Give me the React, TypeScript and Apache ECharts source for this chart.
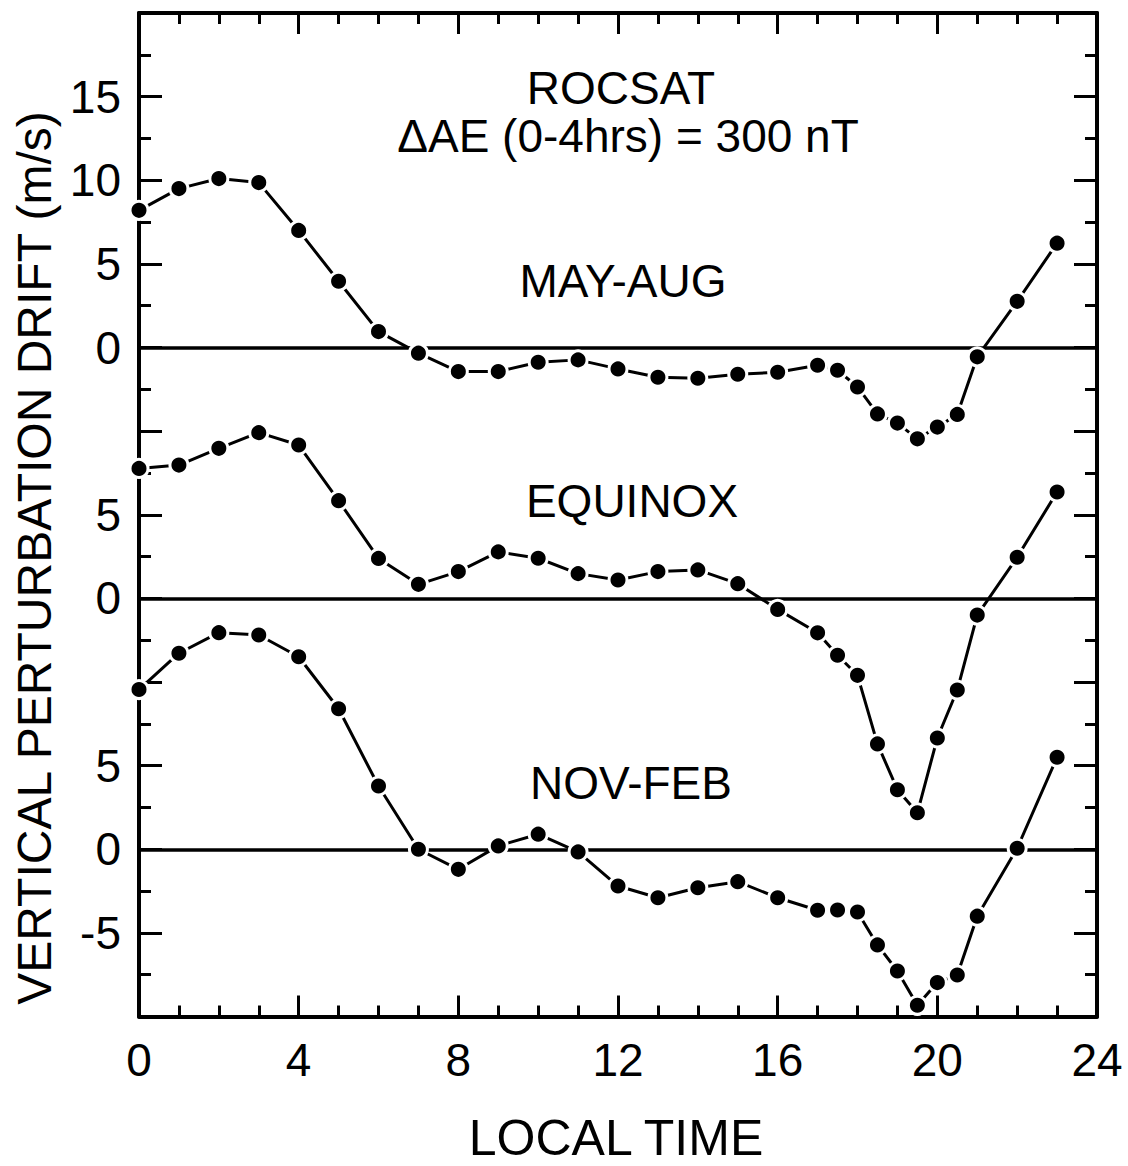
import React, { useEffect, useRef } from "react";
import * as echarts from "echarts";

// Local time (hours) at which the drifts were sampled
const hours = [0, 1, 2, 3, 4, 5, 6, 7, 8, 9, 10, 11, 12, 13, 14, 15, 16, 17, 17.5, 18, 18.5, 19, 19.5, 20, 20.5, 21, 22, 23];

// Vertical perturbation drift (m/s)
const mayAug = [8.2, 9.5, 10.1, 9.86, 7.0, 3.96, 0.95, -0.34, -1.44, -1.44, -0.88, -0.74, -1.28, -1.78, -1.84, -1.6, -1.48, -1.06, -1.36, -2.36, -3.97, -4.52, -5.46, -4.76, -4.0, -0.56, 2.76, 6.24];
const equinox = [7.77, 7.97, 8.97, 9.91, 9.17, 5.84, 2.39, 0.84, 1.6, 2.78, 2.4, 1.48, 1.1, 1.6, 1.7, 0.88, -0.66, -2.06, -3.4, -4.6, -8.7, -11.44, -12.82, -8.35, -5.48, -1.0, 2.46, 6.36];
const novFeb = [9.55, 11.72, 12.95, 12.81, 11.51, 8.4, 3.78, 0.0, -1.2, 0.2, 0.9, -0.16, -2.2, -2.9, -2.3, -1.94, -2.9, -3.65, -3.63, -3.75, -5.72, -7.28, -9.33, -7.97, -7.52, -4.0, 0.06, 5.5];

// Panels are stacked on one continuous axis; each panel's zero sits at this offset
const panelNames = ["MAY-AUG", "EQUINOX", "NOV-FEB"];
const panelOffsets = [30, 15, 0];

// Tick labels of the stacked y axis (global value -> label shown)
const yTickValues = [-5, 0, 5, 15, 20, 30, 35, 40, 45];
const yTickLabels = ["-5", "0", "5", "0", "5", "0", "5", "10", "15"];

const xTicks = [0, 4, 8, 12, 16, 20, 24];

const FONT = "'Liberation Sans', Arial, Helvetica, sans-serif";

export default function App() {
  const ref = useRef<HTMLDivElement>(null);

  useEffect(() => {
    if (!ref.current) return;
    const chart = echarts.init(ref.current, null, { renderer: "svg" });

    const seriesData = [mayAug, equinox, novFeb];

    const series: any[] = seriesData.map((vals, i) => ({
      name: panelNames[i],
      type: "line",
      data: hours.map((h, k) => [h, vals[k] + panelOffsets[i]]),
      xAxisIndex: 0,
      yAxisIndex: 0,
      symbol: "circle",
      symbolSize: 18,
      itemStyle: { color: "#000", borderColor: "#fff", borderWidth: 3 },
      lineStyle: { color: "#000", width: 3 },
      z: 3,
      markLine: {
        silent: true,
        symbol: "none",
        label: { show: false },
        lineStyle: { color: "#000", width: 3.5, type: "solid" },
        data: [{ yAxis: panelOffsets[i] }],
        z: 1,
      },
    }));

    const axisLine = { show: true, onZero: false, lineStyle: { color: "#000", width: 4 } };

    const option: any = {
      animation: false,
      backgroundColor: "#fff",
      grid: { left: 139, top: 13, right: 31, bottom: 149.5, containLabel: false },
      xAxis: [0, 1].map((idx) => ({
        type: "value",
        position: idx === 0 ? "bottom" : "top",
        min: xTicks[0],
        max: xTicks[xTicks.length - 1],
        interval: 4,
        axisLine,
        axisTick: { show: true, inside: true, length: 21, lineStyle: { color: "#000", width: 3 } },
        minorTick: { show: true, splitNumber: 4, length: 11, lineStyle: { color: "#000", width: 3 } },
        splitLine: { show: false },
        minorSplitLine: { show: false },
        axisLabel: {
          show: idx === 0,
          fontSize: 46,
          color: "#000",
          fontFamily: FONT,
          margin: 20,
        },
      })),
      yAxis: [0, 1].map((idx) => ({
        type: "value",
        position: idx === 0 ? "left" : "right",
        min: -10,
        max: 50,
        interval: 5,
        axisLine,
        axisTick: { show: true, inside: true, length: 23, lineStyle: { color: "#000", width: 3 } },
        minorTick: { show: true, splitNumber: 2, length: 12, lineStyle: { color: "#000", width: 3 } },
        splitLine: { show: false },
        minorSplitLine: { show: false },
        axisLabel: {
          show: idx === 0,
          fontSize: 46,
          color: "#000",
          fontFamily: FONT,
          margin: 18,
          formatter: (v: number) => {
            const j = yTickValues.indexOf(Math.round(v));
            return j >= 0 ? yTickLabels[j] : "";
          },
        },
      })),
      graphic: [
        { type: "text", x: 621, y: 88, style: { text: "ROCSAT", fontSize: 46, fontFamily: FONT, fill: "#000", align: "center", verticalAlign: "middle" } },
        { type: "text", x: 628, y: 136, style: { text: "ΔAE (0-4hrs) = 300 nT", fontSize: 46, fontFamily: FONT, fill: "#000", align: "center", verticalAlign: "middle" } },
        { type: "text", x: 623, y: 281, style: { text: panelNames[0], fontSize: 46, fontFamily: FONT, fill: "#000", align: "center", verticalAlign: "middle" } },
        { type: "text", x: 632, y: 501, style: { text: panelNames[1], fontSize: 46, fontFamily: FONT, fill: "#000", align: "center", verticalAlign: "middle" } },
        { type: "text", x: 631, y: 783, style: { text: panelNames[2], fontSize: 46, fontFamily: FONT, fill: "#000", align: "center", verticalAlign: "middle" } },
        { type: "text", x: 616, y: 1138, style: { text: "LOCAL TIME", fontSize: 50, fontFamily: FONT, fill: "#000", align: "center", verticalAlign: "middle" } },
        { type: "text", x: 34, y: 558, rotation: Math.PI / 2, style: { text: "VERTICAL PERTURBATION DRIFT (m/s)", fontSize: 48, fontFamily: FONT, fill: "#000", align: "center", verticalAlign: "middle" } },
      ],
      series,
    };

    chart.setOption(option);
    return () => chart.dispose();
  }, []);

  return (
    <div
      ref={ref}
      style={{ position: "absolute", left: 0, top: 0, width: 1128, height: 1166, background: "#fff" }}
    />
  );
}
